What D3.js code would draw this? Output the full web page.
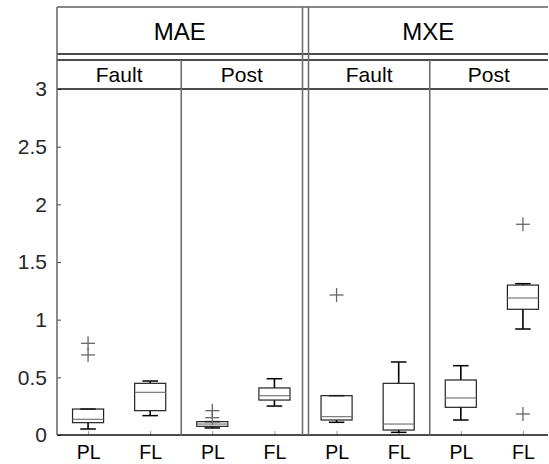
<!DOCTYPE html>
<html>
<head>
<meta charset="utf-8">
<script src="https://cdn.jsdelivr.net/npm/d3@7"></script>
<style>
  html, body { margin: 0; padding: 0; background: #fff; }
  svg { display: block; font-family: "Liberation Sans", Arial, sans-serif; }
</style>
</head>
<body>
<svg id="chart" width="549" height="464"></svg>
<script>
// Error metrics, each split into fault / post-fault windows, compared for two methods
const metrics = ["MAE", "MXE"];
const phases = ["Fault", "Post"];
const methods = ["PL", "FL"];

// Box statistics in plotting order (MAE-Fault PL, FL, MAE-Post PL, FL, MXE-Fault PL, FL, MXE-Post PL, FL)
const whiskerLow  = [0.052, 0.168, 0.061, 0.251, 0.110, 0.023, 0.130, 0.919];
const q1          = [0.107, 0.211, 0.075, 0.303, 0.130, 0.043, 0.240, 1.090];
const median      = [0.136, 0.370, 0.095, 0.341, 0.159, 0.095, 0.321, 1.188];
const q3          = [0.225, 0.448, 0.116, 0.408, 0.341, 0.448, 0.477, 1.300];
const whiskerHigh = [0.225, 0.468, 0.116, 0.488, 0.341, 0.633, 0.601, 1.312];
const outliers    = [[0.795, 0.694], [], [0.211, 0.150], [], [1.214], [], [], [1.827, 0.182]];

const yTicks = [0, 0.5, 1, 1.5, 2, 2.5, 3];

const svg = d3.select("#chart");

const plotTop = 89, plotBottom = 435;
const headTop = 7, metricBottom = 54, phaseTop = 60;
const leftX = 57, rightX = 548;

const y = d3.scaleLinear().domain([0, 3]).range([plotBottom, plotTop]);
const x = d3.scaleLinear().domain([0.5, 8.5]).range([leftX, 554]);

const boxes = d3.range(8).map(i => ({
  pos: i + 1,
  label: methods[i % 2],
  lo: whiskerLow[i], q1: q1[i], med: median[i], q3: q3[i], hi: whiskerHigh[i],
  out: outliers[i]
}));

const frameGray = "#6e6e6e";
const fontFam = "Liberation Sans, Arial, sans-serif";

// Y axis with inward ticks
const yAxis = d3.axisLeft(y).tickValues(yTicks).tickSize(-4).tickPadding(10)
  .tickFormat(d3.format("~g"));
const ga = svg.append("g").attr("transform", `translate(${leftX},0)`).call(yAxis);
ga.select(".domain").remove();
ga.selectAll(".tick line").attr("stroke", "#444").attr("stroke-width", 1);
ga.selectAll(".tick text").attr("font-size", 21).attr("fill", "#262626")
  .attr("font-family", fontFam);

// X axis: method labels under every box, small inward ticks
const xAxis = d3.axisBottom(x).tickValues(boxes.map(b => b.pos)).tickSize(-4).tickPadding(0)
  .tickFormat((d, i) => boxes[i].label);
const gx = svg.append("g").attr("transform", `translate(0,${plotBottom})`).call(xAxis);
gx.select(".domain").remove();
gx.selectAll(".tick line").attr("stroke", "#999").attr("stroke-width", 1);
gx.selectAll(".tick text").attr("font-size", 19.5).attr("fill", "#000")
  .attr("font-family", fontFam).attr("dy", null).attr("y", 24);

// Panel frame
const frame = svg.append("g").attr("fill", "none");
const hline = (y0, x0, x1, w) => frame.append("line").attr("x1", x0).attr("x2", x1)
  .attr("y1", y0).attr("y2", y0).attr("stroke", "#111").attr("stroke-width", w);
const vline = (x0, y0, y1) => frame.append("line").attr("x1", x0).attr("x2", x0)
  .attr("y1", y0).attr("y2", y1).attr("stroke", frameGray).attr("stroke-width", 1.6);

const midMetric = (x(4) + x(5)) / 2;
const divA = midMetric - 3, divB = midMetric + 3;
const phaseDiv = [(x(2) + x(3)) / 2, (x(6) + x(7)) / 2];

hline(headTop, leftX, rightX, 1.2);
hline(metricBottom, leftX, rightX, 1.5);
hline(phaseTop, leftX, rightX, 1.5);
hline(plotTop, leftX, rightX, 1.5);
hline(plotBottom, leftX, rightX, 1.5);
vline(leftX, headTop, plotBottom);
vline(divA, headTop, plotBottom);
vline(divB, headTop, plotBottom);
phaseDiv.forEach(px => vline(px, phaseTop, plotBottom));

// Header labels
const metricSpans = [[leftX, divA], [divB, rightX]];
metrics.forEach((m, i) => {
  svg.append("text").attr("x", (metricSpans[i][0] + metricSpans[i][1]) / 2).attr("y", 40)
    .attr("text-anchor", "middle").attr("font-size", 24).attr("fill", "#000").text(m);
});
const phaseSpans = [[leftX, phaseDiv[0]], [phaseDiv[0], divA], [divB, phaseDiv[1]], [phaseDiv[1], rightX]];
phaseSpans.forEach((s, i) => {
  svg.append("text").attr("x", (s[0] + s[1]) / 2).attr("y", 82)
    .attr("text-anchor", "middle").attr("font-size", 21).attr("fill", "#000")
    .text(phases[i % 2]);
});

// Boxes
const unit = x(2) - x(1);
const boxHalf = unit * 0.25, capHalf = unit * 0.125;
const g = svg.append("g");
boxes.forEach(b => {
  const cx = x(b.pos);
  // whiskers
  g.append("line").attr("x1", cx).attr("x2", cx).attr("y1", y(b.q3)).attr("y2", y(b.hi))
    .attr("stroke", "#000").attr("stroke-width", 1.6);
  g.append("line").attr("x1", cx).attr("x2", cx).attr("y1", y(b.q1)).attr("y2", y(b.lo))
    .attr("stroke", "#000").attr("stroke-width", 1.6);
  // caps
  [b.lo, b.hi].forEach(v => g.append("line").attr("x1", cx - capHalf).attr("x2", cx + capHalf)
    .attr("y1", y(v)).attr("y2", y(v)).attr("stroke", "#000").attr("stroke-width", 1.5));
  // box
  g.append("rect").attr("x", cx - boxHalf).attr("y", y(b.q3)).attr("width", boxHalf * 2)
    .attr("height", y(b.q1) - y(b.q3)).attr("fill", "none").attr("stroke", "#222").attr("stroke-width", 1.2);
  // median
  g.append("line").attr("x1", cx - boxHalf).attr("x2", cx + boxHalf)
    .attr("y1", y(b.med)).attr("y2", y(b.med)).attr("stroke", "#777").attr("stroke-width", 1.2);
  // outliers
  b.out.forEach(v => {
    const oy = y(v), r = 7;
    g.append("line").attr("x1", cx - r).attr("x2", cx + r).attr("y1", oy).attr("y2", oy)
      .attr("stroke", "#666").attr("stroke-width", 1.3);
    g.append("line").attr("x1", cx).attr("x2", cx).attr("y1", oy - r).attr("y2", oy + r)
      .attr("stroke", "#666").attr("stroke-width", 1.3);
  });
});
</script>
</body>
</html>
